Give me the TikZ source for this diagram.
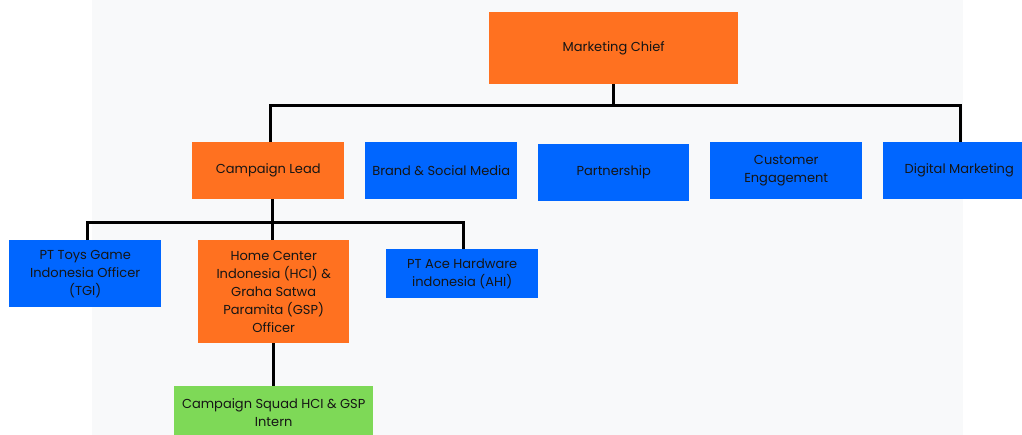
\documentclass[tikz,border=0pt]{standalone}
\usepackage{fontspec}
\setmainfont{Poppins}
\definecolor{borange}{HTML}{FF7120}
\definecolor{bblue}{HTML}{0066FF}
\definecolor{bgreen}{HTML}{7ED957}
\definecolor{txt}{HTML}{151515}
\definecolor{bgpanel}{HTML}{F8F9FA}
\begin{document}
\begin{tikzpicture}[x=1pt,y=-1pt,
  box/.style={rectangle, inner sep=0pt, align=center, text=txt, font=\fontsize{13}{18}\selectfont, anchor=north west},
  org/.style={box, fill=borange},
  blu/.style={box, fill=bblue},
  grn/.style={box, fill=bgreen},
  link/.style={draw=black, line width=3pt}]
\useasboundingbox (0,0) rectangle (1022,435);
\clip (0,0) rectangle (1022,435);
\fill[white] (0,0) rectangle (1022,435);
\fill[bgpanel] (92,0) rectangle (963,435);
% top level
\node[org, minimum width=249pt, minimum height=72pt] (chief) at (489,12) {Marketing Chief};
% second level
\node[org, minimum width=152pt, minimum height=57pt] (lead) at (192,142) {Campaign Lead};
\node[blu, minimum width=152pt, minimum height=57pt] (brand) at (365,142) {Brand \& Social Media};
\node[blu, minimum width=151pt, minimum height=57pt] (part) at (538,144) {Partnership};
\node[blu, minimum width=152pt, minimum height=57pt] (cust) at (710,142) {Customer\\Engagement};
\node[blu, minimum width=152pt, minimum height=57pt] (digi) at (883,142) {Digital Marketing};
% third level
\node[blu, minimum width=152pt, minimum height=67pt] (toys) at (9,240) {PT Toys Game\\Indonesia Officer\\(TGI)};
\node[org, minimum width=151pt, minimum height=103pt] (hci) at (198,240) {Home Center\\Indonesia (HCI) \&\\Graha Satwa\\Paramita (GSP)\\Officer};
\node[blu, minimum width=152pt, minimum height=49pt] (ace) at (386,249) {PT Ace Hardware\\indonesia (AHI)};
% fourth level
\node[grn, minimum width=199pt, minimum height=52pt] (squad) at (174,386) {Campaign Squad HCI \& GSP\\Intern};
% bus coordinates
\coordinate (bus1) at (613,106);
\coordinate (bus2) at (272,223);
% connectors
\draw[link] (chief.south -| bus1) -- (bus1);
\draw[link] (lead.north -| 270,0) |- (bus1) -| (digi.north -| 960,0);
\draw[link] (brand.north -| 439,0) -- (brand.north -| 439,0 |- bus1);
\draw[link] (part.north -| 614,0) -- (part.north -| 614,0 |- bus1);
\draw[link] (cust.north -| 787,0) -- (cust.north -| 787,0 |- bus1);
\draw[link] (lead.south -| bus2) -- (hci.north -| bus2);
\draw[link] (toys.north -| 87,0) |- (bus2) -| (ace.north -| 463,0);
\draw[link] (hci.south -| 273,0) -- (squad.north -| 273,0);
\end{tikzpicture}
\end{document}
